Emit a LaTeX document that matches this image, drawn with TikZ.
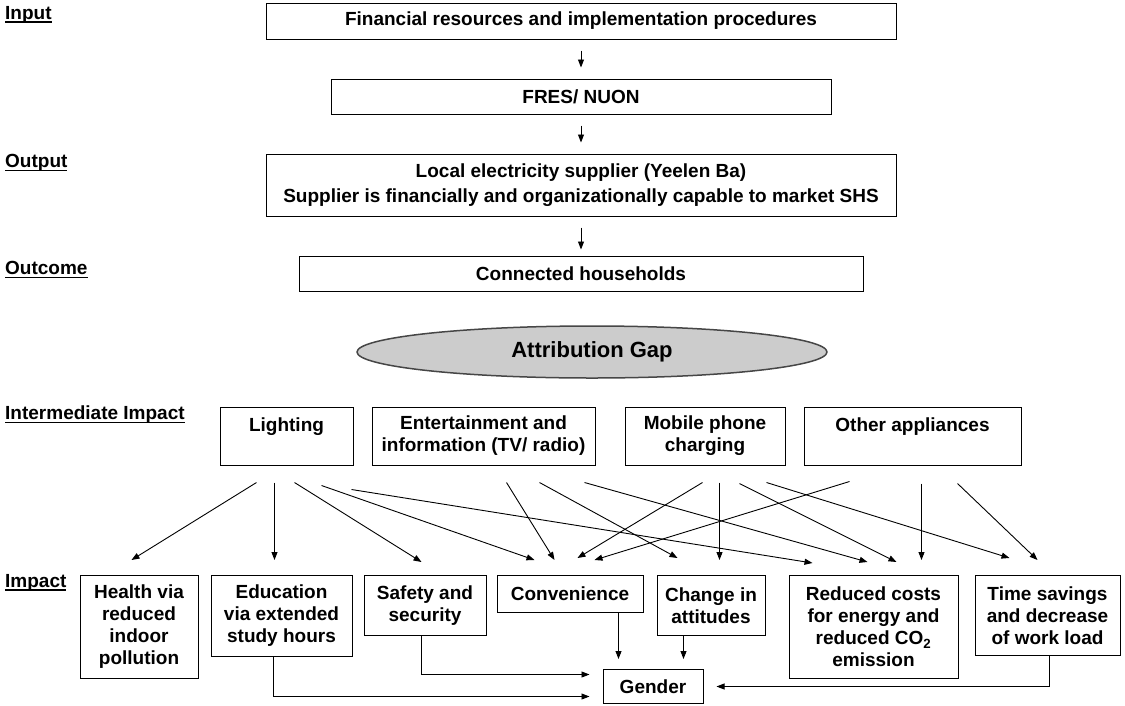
\documentclass[tikz,border=0pt]{standalone}
\usepackage{fontspec}
\setmainfont{Liberation Sans}
\usetikzlibrary{arrows.meta, positioning, shapes.geometric}
\newcommand{\stageul}[1]{{\setbox0=\hbox{#1}\leavevmode\rlap{\copy0}\rule[-3.5pt]{\wd0}{1.6pt}}}

\begin{document}
\begin{tikzpicture}[
x=1pt, y=-1pt,
node distance=39pt,
every node/.style={font=\bfseries\fontsize{19}{22}\selectfont},
box/.style={draw, line width=1pt, align=center, inner sep=0pt},
stage/.style={anchor=west, inner sep=0pt},
arrow/.style={-{Triangle[length=8pt,width=6pt]}, line width=0.9pt}
]
\useasboundingbox (0,0) rectangle (1125,705);

% stage labels
\node[stage] (inp) at (5,15) {\stageul{Input}};
\node[stage] (outp) at (5,163) {\stageul{Output}};
\node[stage] (outc) at (5,270) {\stageul{Outcome}};
\node[stage] (interm) at (5,415) {\stageul{Intermediate Impact}};
\node[stage] (imp) at (5,583) {\stageul{Impact}};

% chain from input to outcome
\node[box, minimum width=630pt, minimum height=36pt] (fin) at (581,21) {Financial resources and implementation procedures};
\node[box, minimum width=500pt, minimum height=35pt, below=of fin] (fres) {FRES/ NUON};
\node[box, minimum width=630pt, minimum height=62pt, below=of fres] (supp) {Local electricity supplier (Yeelen Ba)\\[3pt]Supplier is financially and organizationally capable to market SHS};
\node[box, minimum width=564pt, minimum height=35pt, below=of supp] (conn) {Connected households};

\draw[arrow, shorten <=11pt, shorten >=11pt] (fin) -- (fres);
\draw[arrow, shorten <=11pt, shorten >=11pt] (fres) -- (supp);
\draw[arrow, shorten <=11pt, shorten >=6pt] (supp) -- (conn);

\node[ellipse, draw=gray!55!black, line width=1.5pt, fill=gray!40, minimum width=470pt, minimum height=52pt, font=\bfseries\fontsize{22}{26}\selectfont] (gap) at (592,352) {Attribution Gap};

% intermediate impact
\node[box, minimum width=133pt, minimum height=58pt] (light) at (286.5,436) {Lighting\\ ~};
\node[box, minimum width=223pt, minimum height=58pt] (ent) at (483.5,436) {Entertainment and\\information (TV/ radio)};
\node[box, minimum width=160pt, minimum height=58pt] (mob) at (705,436) {Mobile phone\\charging};
\node[box, minimum width=217pt, minimum height=58pt] (other) at (912.5,436) {Other appliances\\ ~};

% impact
\node[box, anchor=north, minimum width=118pt, minimum height=103pt] (health) at (139,575) {Health via\\reduced\\indoor\\pollution};
\node[box, anchor=north, minimum width=141pt, minimum height=81pt] (edu) at (281.5,575) {Education\\via extended\\study hours};
\node[box, anchor=north, minimum width=122pt, minimum height=60pt] (safe) at (425,575) {Safety and\\security};
\node[box, anchor=north, minimum width=146pt, minimum height=37pt] (conv) at (570,575) {Convenience};
\node[box, anchor=north, minimum width=108pt, minimum height=60pt] (change) at (711,575) {Change in\\attitudes};
\node[box, anchor=north, minimum width=169pt, minimum height=103pt] (cost) at (873.5,575) {Reduced costs\\for energy and\\reduced CO\textsubscript{2}\\emission};
\node[box, anchor=north, minimum width=145pt, minimum height=80pt] (time) at (1047.5,575) {Time savings\\and decrease\\of work load};
\node[box, minimum width=100pt, minimum height=34pt] (gender) at (653,686.5) {Gender};

% lighting
\draw[arrow] ([xshift=37pt,yshift=-17pt]light.south west) -- ([xshift=52pt,yshift=15pt]health.north west);
\draw[arrow] ([xshift=55pt,yshift=-17pt]light.south west) -- ([xshift=64pt,yshift=15pt]edu.north west);
\draw[arrow] ([xshift=75pt,yshift=-17pt]light.south west) -- ([xshift=58pt,yshift=13pt]safe.north west);
\draw[arrow] ([xshift=102pt,yshift=-20pt]light.south west) -- ([xshift=38pt,yshift=15pt]conv.north west);
\draw[arrow] ([xshift=132pt,yshift=-24pt]light.south west) -- ([xshift=24pt,yshift=12pt]cost.north west);
% entertainment
\draw[arrow] ([xshift=135pt,yshift=-17pt]ent.south west) -- ([xshift=58pt,yshift=15pt]conv.north west);
\draw[arrow] ([xshift=168pt,yshift=-17pt]ent.south west) -- ([xshift=21pt,yshift=17pt]change.north west);
\draw[arrow] ([xshift=213pt,yshift=-17pt]ent.south west) -- ([xshift=79pt,yshift=13pt]cost.north west);
% mobile phone
\draw[arrow] ([xshift=78pt,yshift=-17pt]mob.south west) -- ([xshift=81pt,yshift=17pt]conv.north west);
\draw[arrow] ([xshift=95pt,yshift=-17pt]mob.south west) -- ([xshift=63pt,yshift=15pt]change.north west);
\draw[arrow] ([xshift=115pt,yshift=-18pt]mob.south west) -- ([xshift=108pt,yshift=13pt]cost.north west);
\draw[arrow] ([xshift=142pt,yshift=-17pt]mob.south west) -- ([xshift=35pt,yshift=17pt]time.north west);
% other appliances
\draw[arrow] ([xshift=46pt,yshift=-16pt]other.south west) -- ([xshift=98pt,yshift=15pt]conv.north west);
\draw[arrow] ([xshift=118pt,yshift=-18pt]other.south west) -- ([xshift=133pt,yshift=15pt]cost.north west);
\draw[arrow] ([xshift=154pt,yshift=-18pt]other.south west) -- ([xshift=63pt,yshift=15pt]time.north west);

% to gender
\draw[arrow] ([xshift=122pt]conv.south west) -- ([xshift=16pt,yshift=10pt]gender.north west);
\draw[arrow] ([xshift=27pt]change.south west) -- ([xshift=81pt,yshift=10pt]gender.north west);
\draw[arrow] ([xshift=58pt]safe.south west) |- ([xshift=-13pt,yshift=12pt]gender.west);
\draw[arrow] ([xshift=63pt]edu.south west) |- ([xshift=-13pt,yshift=-10pt]gender.west);
\draw[arrow] ([xshift=75pt]time.south west) |- ([xshift=13pt]gender.east);

\end{tikzpicture}
\end{document}
